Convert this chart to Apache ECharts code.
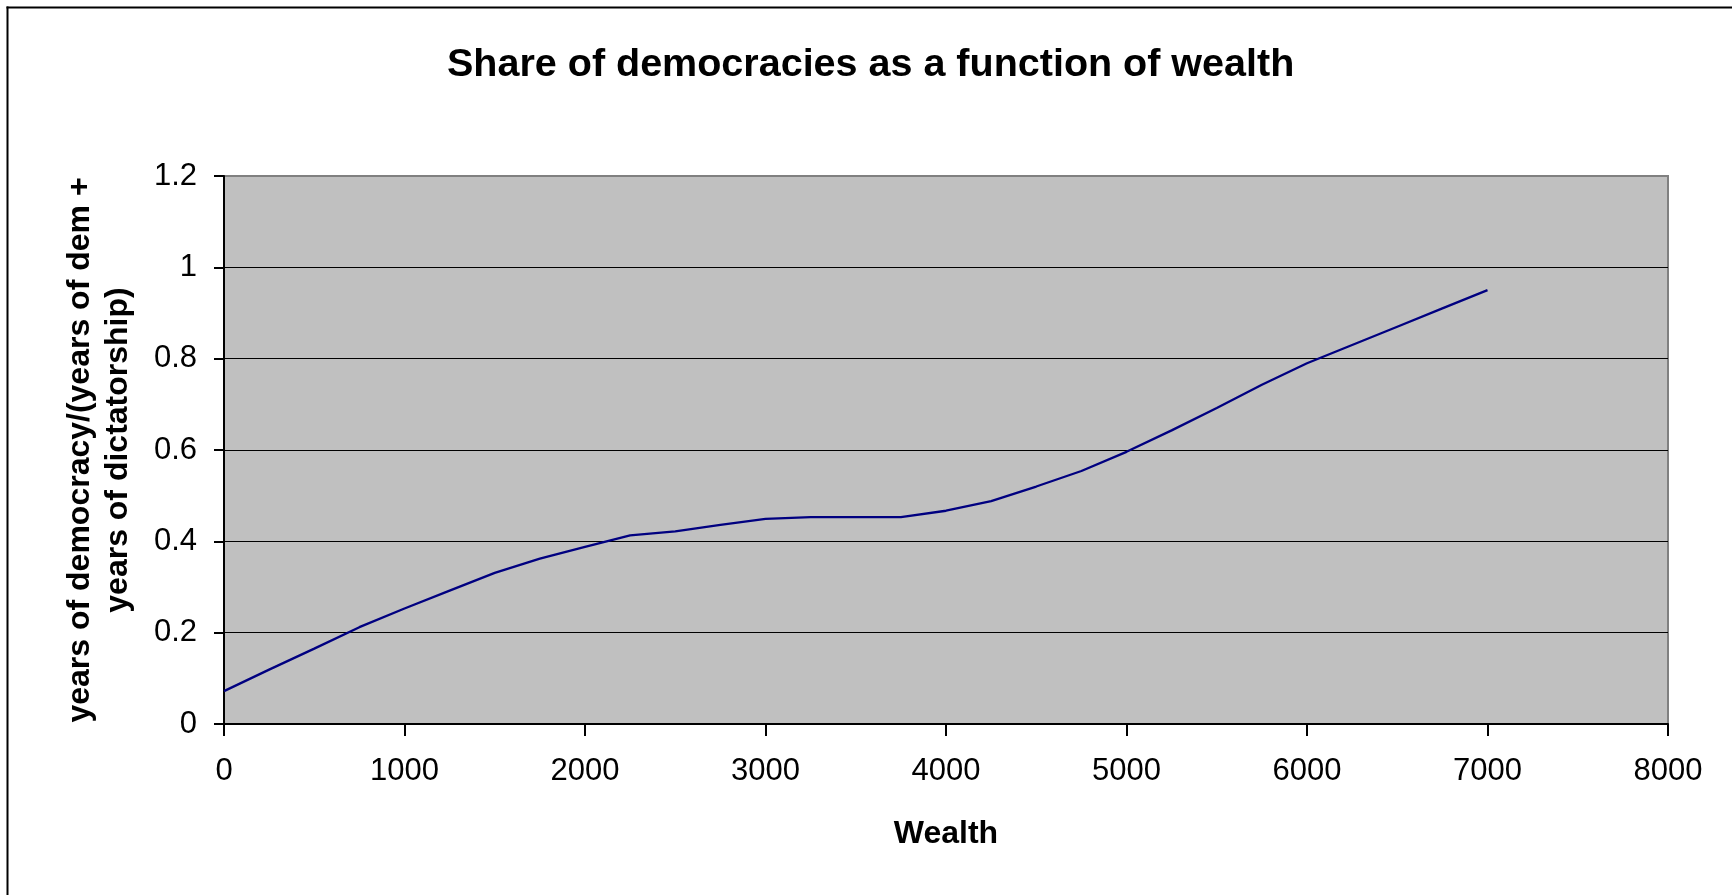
<!DOCTYPE html>
<html>
<head>
<meta charset="utf-8">
<script src="https://cdn.jsdelivr.net/npm/echarts@6/dist/echarts.min.js"></script>
<style>
html,body{margin:0;padding:0;background:#fff;}
#chart{width:1732px;height:895px;}
</style>
</head>
<body>
<div id="chart"></div>
<script>
var wealth = [0,250,500,750,1000,1250,1500,1750,2000,2250,2500,2750,3000,3250,3500,3750,4000,4250,4500,4750,5000,5250,5500,5750,6000,6250,6500,6750,7000];
var share  = [0.072,0.119,0.165,0.212,0.253,0.292,0.331,0.362,0.388,0.413,0.422,0.436,0.449,0.453,0.453,0.453,0.467,0.488,0.520,0.554,0.596,0.643,0.692,0.743,0.790,0.830,0.870,0.910,0.950];
var titleText = 'Share of democracies as a function of wealth';
var xName = 'Wealth';
var yName = 'years of democracy/(years of dem +\nyears of dictatorship)';

var font = '"Liberation Sans", Arial, sans-serif';
var chart = echarts.init(document.getElementById('chart'));
chart.setOption({
  animation: false,
  backgroundColor: '#ffffff',
  title: {
    text: titleText,
    left: 447,
    top: 45,
    padding: 0,
    textStyle: {fontFamily: font, fontSize: 39.5, fontWeight: 'bold', color: '#000', lineHeight: 40}
  },
  graphic: [
    {type: 'line', shape: {x1: 7.5, y1: 6.5, x2: 7.5, y2: 900}, style: {stroke: '#000', lineWidth: 2}},
    {type: 'line', shape: {x1: 6.5, y1: 7.5, x2: 1740, y2: 7.5}, style: {stroke: '#000', lineWidth: 2}}
  ],
  grid: {
    left: 224, right: 64, top: 176, bottom: 171,
    show: true, backgroundColor: '#C0C0C0', borderColor: '#808080', borderWidth: 2,
    containLabel: false
  },
  xAxis: {
    type: 'value', min: 0, max: 8000, interval: 1000,
    name: xName, nameLocation: 'middle', nameGap: 94,
    nameTextStyle: {fontFamily: font, fontSize: 32, fontWeight: 'bold', color: '#000', lineHeight: 32},
    axisLine: {show: true, onZero: false, lineStyle: {color: '#000', width: 2}},
    axisTick: {show: true, length: 12, inside: false, lineStyle: {color: '#000', width: 2}},
    axisLabel: {fontFamily: font, fontSize: 31, color: '#000', margin: 32, lineHeight: 31,
      formatter: function (v) { return String(v); }},
    splitLine: {show: false}
  },
  yAxis: {
    type: 'value', min: 0, max: 1.2, interval: 0.2,
    name: yName, nameLocation: 'middle', nameGap: 87, nameRotate: 90,
    nameTextStyle: {fontFamily: font, fontSize: 32, fontWeight: 'bold', color: '#000', lineHeight: 38, align: 'center'},
    axisLine: {show: true, lineStyle: {color: '#000', width: 2}},
    axisTick: {show: true, length: 10, inside: false, lineStyle: {color: '#000', width: 2}},
    axisLabel: {fontFamily: font, fontSize: 31, color: '#000', margin: 27,
      formatter: function (v) { return String(Math.round(v * 10) / 10); }},
    splitLine: {show: true, showMaxLine: false, lineStyle: {color: '#000', width: 1.2}}
  },
  series: [{
    type: 'line',
    data: wealth.map(function (w, i) { return [w, share[i]]; }),
    showSymbol: false, symbol: 'none', smooth: false,
    lineStyle: {color: '#000080', width: 2.3},
    z: 5
  }]
});
</script>
</body>
</html>
